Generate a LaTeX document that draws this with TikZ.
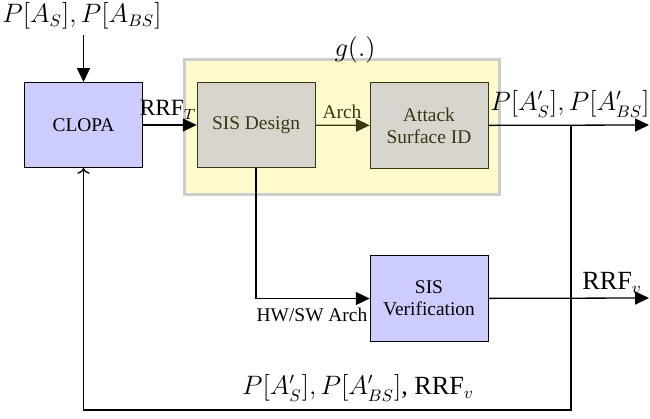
\documentclass[tikz,border=0pt]{standalone}
\usepackage{fontspec}
\setmainfont{Liberation Serif}[Scale=1.05]
\usepackage{xcolor}
\usepackage{tikz}
\usetikzlibrary{calc,backgrounds,arrows.meta}
\definecolor{clopablue}{RGB}{204,204,255}
\definecolor{dsgnfill}{RGB}{216,213,206}
\definecolor{dsgnline}{RGB}{58,54,18}
\definecolor{grpfill}{RGB}{255,251,204}
\definecolor{grpline}{RGB}{205,205,205}
\tikzstyle{block} = [draw, align=center, minimum width=2.24cm, minimum height=1.62cm, inner sep=2pt]
\tikzstyle{clopabox} = [block, fill=clopablue]
\tikzstyle{dsgnbox} = [block, fill=dsgnfill, draw=dsgnline, text=dsgnline]
\tikzstyle{groupbox} = [draw=grpline, fill=grpfill, line width=1.6pt, minimum width=5.98cm, minimum height=2.56cm]
\tikzstyle{tag} = [inner sep=0pt]
\tikzstyle{bigtag} = [inner sep=0pt, font=\fontsize{13.5}{16}\selectfont]
\tikzstyle{flow} = [-{Triangle[length=7.5pt,width=7pt]}, line width=0.7pt]

\begin{document}
\begin{tikzpicture}
    [x=0.019cm,y=-0.019cm]
      \useasboundingbox (0,0) rectangle (650,418);
      \node [groupbox](grp) at (342,127) {};
      \node [clopabox](clopa) at (83.5,125) {CLOPA};
      \node [dsgnbox](sisd) at (256,125) {SIS Design};
      \node [dsgnbox](asid) at (429,125.5) {Attack\\Surface ID};
      \node [clopabox](sisv) at (429,298.5) {SIS\\Verification};
      \coordinate (in) at (83.5,35);
      \coordinate (out1) at (649,125);
      \coordinate (out2) at (649,298);
      \coordinate (tap) at (571,125);
      \coordinate (low) at (571,410);

      \node [bigtag](inl) at (82,16) {$P[A_S], P[A_{BS}]$};
      \node [bigtag](gl) at (355,50) {$g(.)$};
      \node [tag, font=\large](rrftl) at (168,110) {RRF$_T$};
      \node [tag, text=dsgnline](archl) at (342,112) {Arch};
      \node [bigtag](out1l) at (570,104) {$P[A'_S], P[A'_{BS}]$};
      \node [tag](hwl) at (312,315) {HW/SW Arch};
      \node [bigtag](out2l) at (612,283) {RRF$_v$};
      \node [bigtag](fbl) at (358,388) {$P[A'_S], P[A'_{BS}]$, RRF$_v$};

      \foreach \from/\to in {in/clopa,clopa/sisd,asid/out1,sisv/out2}
        \draw [flow] (\from) -- (\to);
      \draw [flow, dsgnline] (sisd) -- (asid);
      \draw [flow] (sisd) |- (sisv);
      \draw [line width=0.7pt, ->] (tap) -- (low) -| (clopa);

    \end{tikzpicture}
\end{document}
